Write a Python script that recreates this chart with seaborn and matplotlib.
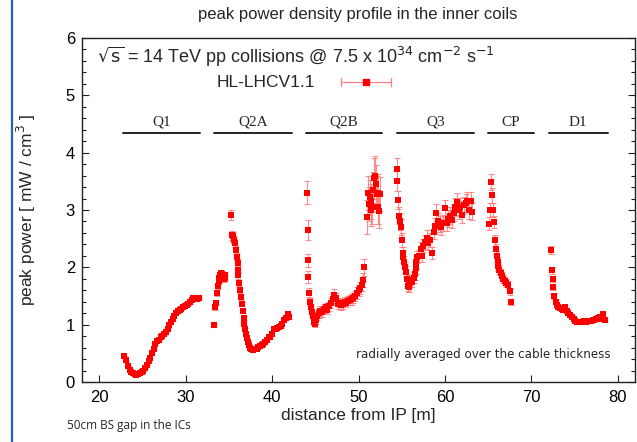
import numpy as np
import pandas as pd
import matplotlib
matplotlib.use("Agg")
import matplotlib.pyplot as plt
import seaborn as sns
from matplotlib.lines import Line2D

# ---------------- data ----------------
q1_x = [22.9, 23.1, 23.3, 23.5, 23.7, 23.9, 24.1, 24.3, 24.5, 24.7, 24.9, 25.1, 25.3, 25.5,
        25.7, 25.9, 26.1, 26.3, 26.5, 26.7, 26.9, 27.1, 27.3, 27.5, 27.7, 27.9, 28.1, 28.3,
        28.5, 28.7, 28.9, 29.1, 29.3, 29.5, 29.7, 29.9, 30.1, 30.3, 30.5, 30.7, 30.9, 31.1,
        31.3, 31.5]
q1_y = [0.45, 0.38, 0.28, 0.21, 0.17, 0.15, 0.14, 0.13, 0.14, 0.15, 0.17, 0.19, 0.24, 0.30,
        0.36, 0.42, 0.50, 0.58, 0.66, 0.71, 0.74, 0.78, 0.81, 0.84, 0.88, 0.93, 0.99, 1.05,
        1.10, 1.15, 1.20, 1.23, 1.26, 1.28, 1.30, 1.32, 1.34, 1.36, 1.39, 1.43, 1.46, 1.45,
        1.44, 1.46]

q2a_x = [33.3, 33.45, 33.5, 33.6, 33.7, 33.8, 33.9, 34.0, 34.1, 34.2, 34.3, 34.4, 34.5, 34.6,
         35.3, 35.4, 35.5, 35.6, 35.7, 35.8, 35.9, 36.0, 36.05, 36.1, 36.2, 36.3, 36.4, 36.5,
         36.6, 36.7, 36.8, 36.9, 37.0, 37.1, 37.2, 37.3, 37.4, 37.6, 37.8, 38.0, 38.2, 38.4,
         38.6, 38.8, 39.0, 39.2, 39.4, 39.6, 39.8, 40.0, 40.2, 40.4, 40.6, 40.8, 41.0, 41.2,
         41.4, 41.6, 41.8, 41.9]
q2a_y = [0.99, 1.30, 1.38, 1.55, 1.68, 1.76, 1.82, 1.87, 1.90, 1.88, 1.85, 1.80, 1.86, 1.82,
         2.92, 2.56, 2.54, 2.48, 2.42, 2.30, 2.18, 2.08, 1.96, 1.86, 1.72, 1.60, 1.48, 1.36,
         1.24, 1.12, 1.02, 0.92, 0.84, 0.76, 0.70, 0.64, 0.60, 0.57, 0.56, 0.57, 0.58, 0.61,
         0.63, 0.64, 0.67, 0.70, 0.74, 0.79, 0.78, 0.83, 0.92, 0.93, 0.95, 0.96, 0.98, 1.02,
         1.08, 1.12, 1.18, 1.14]

q2b_x = [44.0, 44.1, 44.15, 44.2, 44.3, 44.4, 44.5, 44.6, 44.7, 44.8, 44.9, 45.0, 45.1, 45.2,
         45.4, 45.6, 45.8, 46.0, 46.2, 46.4, 46.6, 46.8, 47.0, 47.2, 47.4, 47.6, 47.8, 48.0,
         48.2, 48.4, 48.6, 48.8, 49.0, 49.2, 49.4, 49.6, 49.8, 50.0, 50.2, 50.4, 50.5, 50.6,
         51.0, 51.1, 51.2, 51.3, 51.4, 51.5, 51.6, 51.7, 51.8, 51.9, 52.0, 52.1, 52.2, 52.3,
         52.4, 52.5]
q2b_y = [3.30, 2.65, 2.12, 1.83, 1.56, 1.40, 1.30, 1.22, 1.16, 1.10, 1.05, 1.02, 1.08, 1.15,
         1.20, 1.24, 1.22, 1.28, 1.30, 1.26, 1.32, 1.38, 1.45, 1.52, 1.46, 1.36, 1.38, 1.34,
         1.36, 1.40, 1.38, 1.42, 1.43, 1.44, 1.46, 1.50, 1.55, 1.60, 1.64, 1.70, 1.78, 2.00,
         2.88, 3.30, 3.10, 3.22, 3.00, 3.15, 3.05, 3.35, 3.55, 3.60, 3.45, 3.28, 3.05, 3.30,
         2.98, 3.28]
q2b_e = [0.20, 0.18, 0.12, 0.10, 0.08, 0.07, 0.06, 0.06, 0.06, 0.06, 0.06, 0.06, 0.07, 0.07,
         0.08, 0.08, 0.08, 0.08, 0.08, 0.08, 0.08, 0.09, 0.09, 0.10, 0.09, 0.08, 0.08, 0.08,
         0.08, 0.08, 0.08, 0.08, 0.08, 0.09, 0.09, 0.09, 0.10, 0.10, 0.10, 0.11, 0.12, 0.15,
         0.30, 0.30, 0.30, 0.30, 0.28, 0.30, 0.30, 0.32, 0.35, 0.35, 0.33, 0.32, 0.30, 0.32,
         0.30, 0.30]

q3_x = [54.4, 54.5, 54.6, 54.7, 54.8, 54.9, 55.0, 55.1, 55.2, 55.3, 55.4, 55.5, 55.6, 55.7,
        55.8, 55.9, 56.0, 56.2, 56.4, 56.5, 56.6, 56.7, 56.8, 57.0, 57.2, 57.4, 57.5, 57.7,
        57.9, 58.1, 58.3, 58.5, 58.7, 58.9, 59.0, 59.2, 59.4, 59.6, 59.8, 60.0, 60.2, 60.4,
        60.6, 60.8, 61.0, 61.2, 61.4, 61.6, 61.8, 62.0, 62.2, 62.4, 62.6, 62.8, 63.0, 63.1]
q3_y = [3.72, 3.50, 3.17, 2.90, 2.80, 2.70, 2.47, 2.25, 2.18, 2.10, 2.00, 1.92, 1.80, 1.68,
        1.65, 1.72, 1.78, 1.75, 1.82, 1.88, 1.98, 2.10, 2.18, 2.20, 2.32, 2.20, 2.38, 2.45,
        2.52, 2.42, 2.48, 2.25, 2.62, 2.72, 2.95, 2.80, 2.75, 2.70, 2.78, 3.03, 2.78, 2.85,
        2.90, 2.82, 2.95, 3.05, 3.14, 3.00, 3.06, 2.92, 3.08, 3.12, 3.16, 3.00, 3.15, 2.97]

cp_x = [65.15, 65.25, 65.35, 65.45, 65.55, 65.65, 65.8, 65.9, 66.0, 66.1, 66.2, 66.3, 66.45,
        66.6, 66.75, 66.9, 67.1, 67.3, 67.5, 67.6]
cp_y = [2.76, 3.00, 3.49, 3.26, 3.00, 2.79, 2.47, 2.32, 2.20, 2.10, 2.02, 1.96, 1.90,
        1.85, 1.80, 1.76, 1.73, 1.70, 1.58, 1.40]

d1_x = [72.3, 72.35, 72.45, 72.55, 72.65, 72.8, 72.95, 73.1, 73.3, 73.5, 73.7, 73.9, 74.1,
        74.3, 74.5, 74.7, 74.9, 75.1, 75.3, 75.5, 75.7, 75.9, 76.1, 76.3, 76.5, 76.7, 76.9,
        77.1, 77.3, 77.5, 77.7, 77.9, 78.1, 78.3, 78.5]
d1_y = [2.31, 1.95, 1.80, 1.65, 1.50, 1.40, 1.35, 1.31, 1.29, 1.28, 1.26, 1.30, 1.24,
        1.20, 1.17, 1.14, 1.10, 1.07, 1.05, 1.05, 1.04, 1.05, 1.06, 1.05, 1.06, 1.07, 1.07,
        1.08, 1.08, 1.10, 1.11, 1.13, 1.10, 1.18, 1.08]

# relative statistical uncertainty per magnet (Q2B has explicit errors)
q1_rel, q2a_rel, q3_rel, cp_rel, d1_rel = 0.015, 0.03, 0.05, 0.04, 0.03

magnet_names = ["Q1", "Q2A", "Q2B", "Q3", "CP", "D1"]
magnet_start = [22.7, 33.3, 43.9, 54.4, 65.0, 72.0]
magnet_end = [31.7, 42.3, 52.7, 63.4, 70.3, 78.85]

# ---------------- build frame ----------------
xs = q1_x + q2a_x + q2b_x + q3_x + cp_x + d1_x
ys = q1_y + q2a_y + q2b_y + q3_y + cp_y + d1_y
es = ([v * q1_rel for v in q1_y] + [v * q2a_rel for v in q2a_y] + q2b_e +
      [v * q3_rel for v in q3_y] + [v * cp_rel for v in cp_y] + [v * d1_rel for v in d1_y])
df = pd.DataFrame({"x": xs, "y": ys, "err": es})

# ---------------- style ----------------
sns.set_theme(style="ticks")
plt.rcParams["font.family"] = ["Liberation Sans", "DejaVu Sans"]
plt.rcParams["axes.edgecolor"] = "#222222"
plt.rcParams["axes.linewidth"] = 1.0

fig = plt.figure(figsize=(6.37, 4.42), dpi=100)
ax = fig.add_axes([0.1287, 0.1357, 0.8682, 0.7783])

red = "#ff0000"
ax.errorbar(df["x"], df["y"], yerr=df["err"], fmt="none", ecolor="#ff8080",
            elinewidth=0.8, capsize=2.2, capthick=0.8, alpha=0.9, zorder=2)
sns.scatterplot(data=df, x="x", y="y", marker="s", s=22, color=red, edgecolor=red,
                linewidth=0, ax=ax, zorder=3, legend=False)

ax.set_xlim(18, 82)
ax.set_ylim(0, 6)
ax.set_xticks([20, 30, 40, 50, 60, 70, 80])
ax.set_yticks([0, 1, 2, 3, 4, 5, 6])
ax.set_yticks(np.arange(0, 6.01, 0.2), minor=True)
ax.tick_params(axis="both", which="major", direction="in", length=5, width=0.8,
               labelsize=12, colors="#222222", labelcolor="black")
ax.tick_params(axis="y", which="both", right=True, direction="in")
ax.tick_params(axis="y", which="minor", length=3, width=0.8, colors="#222222")
ax.tick_params(axis="x", which="major", pad=6)
ax.tick_params(axis="y", which="major", pad=5)
ax.set_xlabel("distance from IP [m]", fontsize=12.5, labelpad=2)
ax.set_ylabel(r"peak power [ mW / cm$^3$ ]", fontsize=12.5, labelpad=20)
for sp in ax.spines.values():
    sp.set_visible(True)

# magnet labels
for name, a, b in zip(magnet_names, magnet_start, magnet_end):
    ax.plot([a, b], [4.34, 4.34], color="#222222", lw=1.4, zorder=4)
    ax.text((a + b) / 2, 4.42, name, ha="center", va="bottom", fontsize=11,
            family="Liberation Serif")

# annotations
ax.text(0.027, 0.945, r"$\sqrt{\mathrm{s}}$ = 14 TeV pp collisions @ 7.5 x 10$^{34}$ cm$^{-2}$ s$^{-1}$",
        transform=ax.transAxes, fontsize=13, va="center", ha="left")
ax.text(0.421, 0.872, "HL-LHCV1.1", transform=ax.transAxes, fontsize=12.5,
        va="center", ha="right")
ly = 0.872
ax.plot([0.469, 0.559], [ly, ly], transform=ax.transAxes, color="#ff8080", lw=0.9)
for cx in (0.469, 0.559):
    ax.plot([cx, cx], [ly - 0.012, ly + 0.012], transform=ax.transAxes, color="#ff8080", lw=0.9)
ax.plot([0.514], [ly], transform=ax.transAxes, marker="s", ms=4.7, color=red, mec=red)

ax.text(0.955, 0.08, "radially averaged over the cable thickness", transform=ax.transAxes,
        fontsize=8.6, ha="right", va="center", family="DejaVu Sans")

fig.suptitle("peak power density profile in the inner coils", x=0.562, y=0.985,
             fontsize=12, va="top")
fig.text(0.105, 0.022, "50cm BS gap in the ICs", fontsize=8.5, family="Open Sans",
         ha="left", va="bottom")

# slide border (blue vertical line at left)
fig.add_artist(Line2D([0.0195, 0.0195], [0, 1], transform=fig.transFigure,
                      color="#1f62c0", lw=1.6))

fig.savefig("out.png", dpi=100)
